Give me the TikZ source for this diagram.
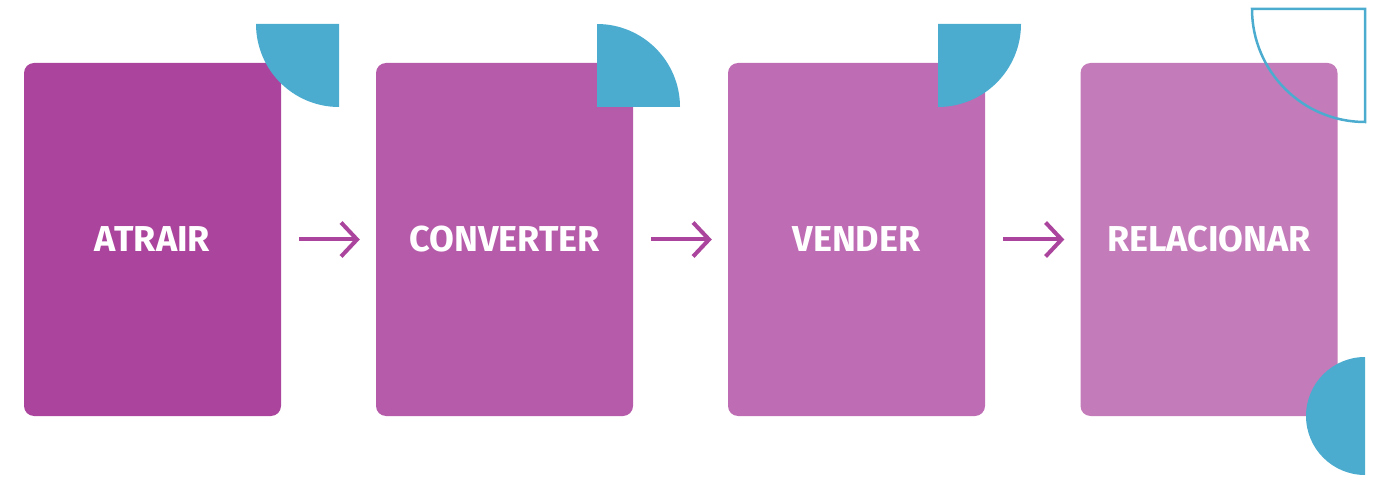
\documentclass[tikz,border=0pt]{standalone}
\usepackage{fontspec}
\setmainfont{Fira Sans}
\usetikzlibrary{arrows.meta}
\definecolor{cA}{HTML}{AB449C}
\definecolor{cB}{HTML}{B65BAA}
\definecolor{cC}{HTML}{BE6CB3}
\definecolor{cD}{HTML}{C47BBA}
\definecolor{bl}{HTML}{4BACD0}
\begin{document}
\begin{tikzpicture}[x=1pt,y=-1pt,
 box/.style={rounded corners=10pt,minimum width=257pt,minimum height=353pt,inner sep=0pt,text=white,font=\fontsize{36}{36}\selectfont\bfseries},
 arr/.style={draw=cA,line width=4pt,-{Straight Barb[length=16pt,width=34pt,line width=4pt]}}]
\useasboundingbox (0,0) rectangle (1389,486);
\node[box,fill=cA] (a) at (152.5,239.5) {ATRAIR};
\node[box,fill=cB] (b) at (504.5,239.5) {CONVERTER};
\node[box,fill=cC] (c) at (856.5,239.5) {VENDER};
\node[box,fill=cD] (d) at (1209,239.5) {RELACIONAR};
\fill[bl] (339,24) -- (256,24) arc[start angle=180,end angle=90,radius=83] -- cycle;
\fill[bl] (597,107) -- (597,24) arc[start angle=270,end angle=360,radius=83] -- cycle;
\fill[bl] (938,24) -- (1021,24) arc[start angle=0,end angle=90,radius=83] -- cycle;
\draw[bl,line width=2.5pt] (1365,9) -- (1252,9) arc[start angle=180,end angle=90,radius=113] -- cycle;
\fill[bl] (1365,357) arc[start angle=270,end angle=90,radius=59] -- cycle;
\draw[arr] ([xshift=18pt]a.east) -- ([xshift=-16pt]b.west);
\draw[arr] ([xshift=18pt]b.east) -- ([xshift=-16pt]c.west);
\draw[arr] ([xshift=18pt]c.east) -- ([xshift=-16pt]d.west);
\end{tikzpicture}
\end{document}
